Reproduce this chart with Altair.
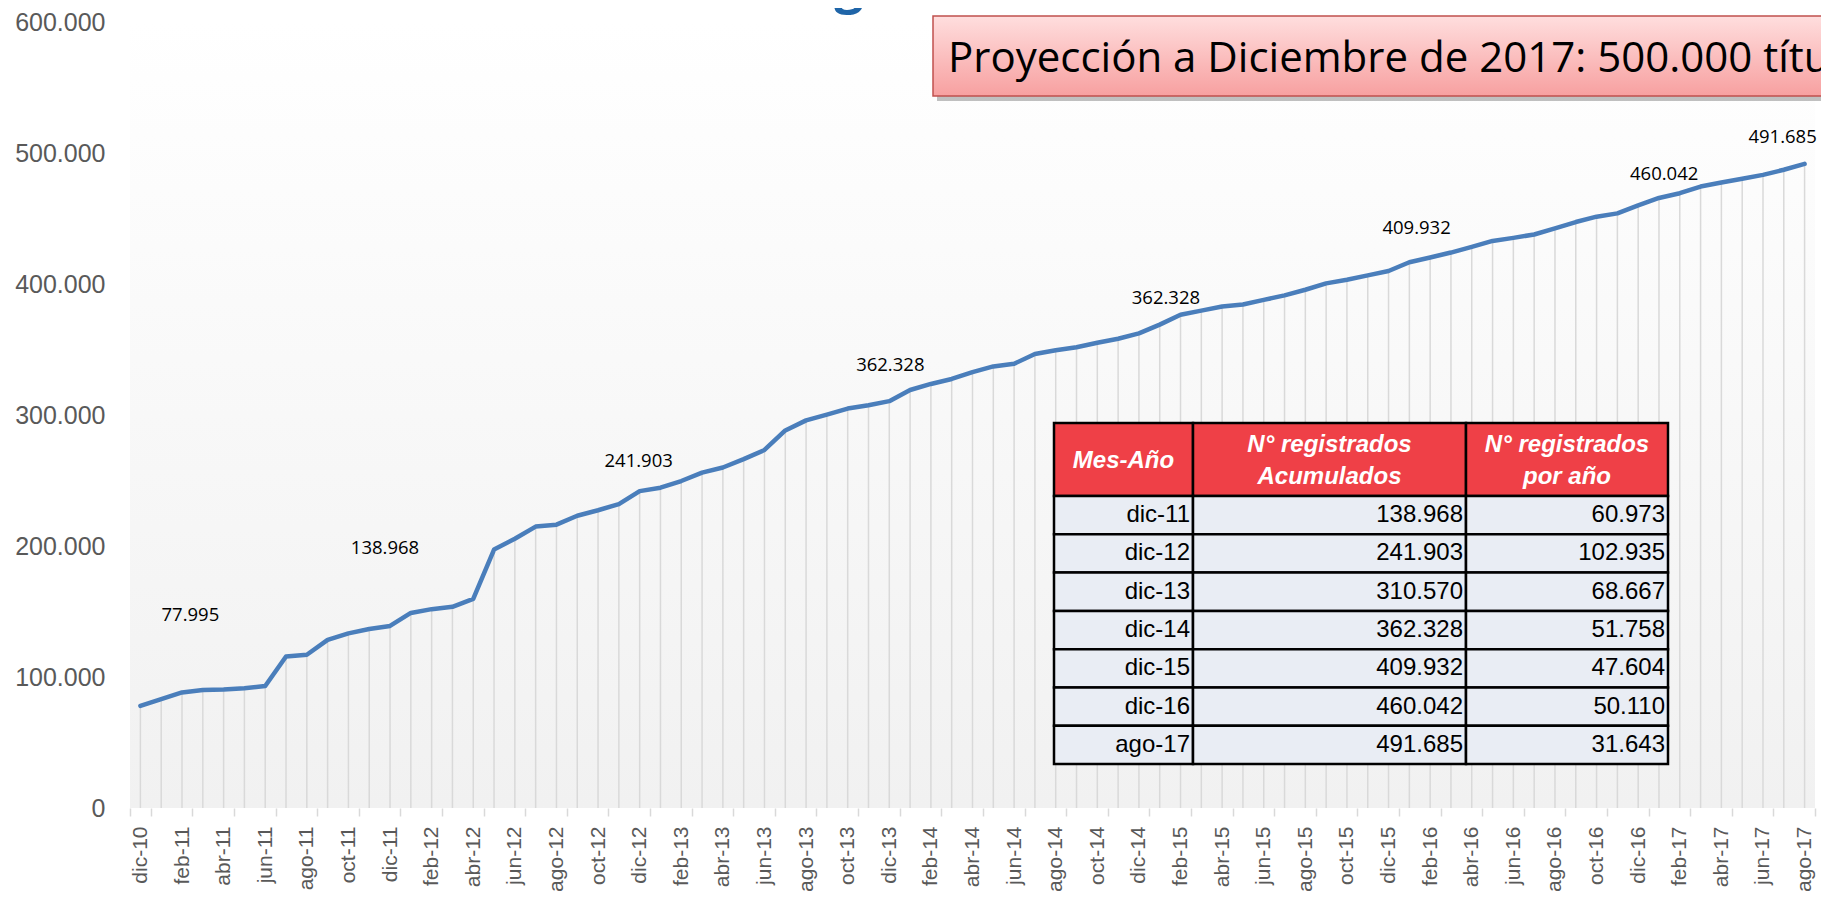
import altair as alt
import pandas as pd

# ---------------- data ----------------
meses_nombre = ["ene", "feb", "mar", "abr", "may", "jun", "jul", "ago", "sep", "oct", "nov", "dic"]
meses = ["dic-10"] + [f"{m}-{a}" for a in range(11, 18) for m in meses_nombre][:80]

registrados = [
    77995, 83100, 88200, 90000, 90500, 91400, 93100, 115600, 117000, 128300, 133300, 136600,
    138968, 148900, 151800, 153600, 159600, 197300, 205500, 214800, 216300, 223100, 227300, 232000,
    241903, 244500, 249600, 256000, 259900, 266300, 273300, 288200, 295900, 300300, 304900, 307500,
    310570, 319100, 323700, 327500, 332700, 337100, 339100, 346600, 349400, 351700, 355100, 358200,
    362328, 369000, 376500, 379700, 382800, 384400, 387900, 391300, 395600, 400500, 403300, 406600,
    409932, 416600, 420200, 424000, 428300, 432900, 435200, 437800, 442400, 447300, 451400, 453900,
    460042, 465700, 469300, 474400, 477500, 480300, 483300, 487200, 491685,
]

etiquetas_mes = ["dic-10", "dic-11", "dic-12", "dic-13", "dic-14", "dic-15", "dic-16", "ago-17"]
etiquetas_texto = ["77.995", "138.968", "241.903", "362.328", "362.328", "409.932", "460.042", "491.685"]

tabla_mes = ["dic-11", "dic-12", "dic-13", "dic-14", "dic-15", "dic-16", "ago-17"]
tabla_acum = [138968, 241903, 310570, 362328, 409932, 460042, 491685]
tabla_anual = [60973, 102935, 68667, 51758, 47604, 50110, 31643]
tabla_cabecera = ["Mes-Año", "N° registrados\nAcumulados", "N° registrados\npor año"]

titulo_caja = "Proyección a Diciembre de 2017: 500.000 títulos"
y_ticks = [0, 100000, 200000, 300000, 400000, 500000, 600000]

# ---------------- layout ----------------
W, H = 1685, 786
etiqueta_dx = [50, -5, -1, 1, 27, 28, 26, -22]
etiqueta_dy = [-91, -78, -30, -36, -35, -43, -31, -27]
col_x = [924, 1063, 1336, 1538]
tab_top, head_h, row_h = 401, 73, 38.3
SANS = "Liberation Sans"


def fmt(v):
    return f"{v:,}".replace(",", ".")


df = pd.DataFrame({"mes": meses, "v": registrados})

x_enc = alt.X(
    "mes:N",
    scale=alt.Scale(type="band", domain=meses, paddingInner=0, paddingOuter=0),
    axis=alt.Axis(
        values=meses[::2], labelAngle=-90, labelAlign="right", labelBaseline="middle",
        tickBand="extent", domain=False, ticks=True, tickColor="#d9d9d9", tickSize=8,
        tickWidth=1.5, labelFont=SANS, labelFontSize=21,
        labelColor="#595959", labelPadding=10, title=None, grid=False, labelOverlap=False,
    ),
)
y_enc = alt.Y(
    "v:Q",
    scale=alt.Scale(domain=[0, 600000], nice=False),
    axis=alt.Axis(
        values=y_ticks, labelExpr="replace(format(datum.value, ','), ',', '.')",
        domain=False, ticks=False, grid=False, labelFont=SANS, labelFontSize=25,
        labelColor="#595959", labelPadding=25, title=None,
    ),
)

fondo = alt.Chart(pd.DataFrame({"k": [0]})).mark_rect(
    color=alt.Gradient(
        gradient="linear",
        stops=[alt.GradientStop(color="#ffffff", offset=0),
               alt.GradientStop(color="#f1f1f1", offset=1)],
        x1=0, x2=0, y1=0, y2=1,
    )
).encode(x=alt.value(0), x2=alt.value(W), y=alt.value(0), y2=alt.value(H))

base = alt.Chart(df)
caidas = base.mark_rule(color="#d9d9d9", strokeWidth=1.5).encode(x=x_enc, y=y_enc, y2=alt.Y2(datum=0))
linea = base.mark_line(color="#4a7ebb", strokeWidth=4.5, strokeJoin="round", strokeCap="round").encode(x=x_enc, y=y_enc)

etiquetas = []
for mes, txt, dx, dy in zip(etiquetas_mes, etiquetas_texto, etiqueta_dx, etiqueta_dy):
    d = pd.DataFrame({"mes": [mes], "v": [registrados[meses.index(mes)]], "t": [txt]})
    etiquetas.append(
        alt.Chart(d).mark_text(dx=dx, dy=dy, font="Open Sans", fontSize=18.5, color="#000000",
                               baseline="middle", align="center")
        .encode(x=alt.X("mes:N"), y=alt.Y("v:Q"), text="t:N")
    )

principal = alt.layer(fondo, caidas, linea, *etiquetas)

# ---------------- table ----------------
celdas = []
for c in range(3):
    celdas.append({"x": col_x[c], "x2": col_x[c + 1], "y": tab_top, "y2": tab_top + head_h, "tipo": "h"})
for r in range(len(tabla_mes)):
    y0 = tab_top + head_h + r * row_h
    for c in range(3):
        celdas.append({"x": col_x[c], "x2": col_x[c + 1], "y": y0, "y2": y0 + row_h, "tipo": "b"})
celdas = pd.DataFrame(celdas)

rect_tabla = alt.Chart(celdas).mark_rect(stroke="#000000", strokeWidth=2.5).encode(
    x=alt.X("x:Q", scale=None), x2="x2:Q",
    y=alt.Y("y:Q", scale=None), y2="y2:Q",
    fill=alt.Fill("tipo:N", scale=alt.Scale(domain=["h", "b"], range=["#ef4047", "#e9edf4"]), legend=None),
)

cab = []
for c, t in enumerate(tabla_cabecera):
    lineas = t.split("\n")
    n = len(lineas)
    for i, ln in enumerate(lineas):
        cab.append({
            "x": (col_x[c] + col_x[c + 1]) / 2,
            "y": tab_top + head_h / 2 + (i - (n - 1) / 2) * 32 + 1,
            "t": ln,
        })
cab = pd.DataFrame(cab)
texto_cab = alt.Chart(cab).mark_text(
    font=SANS, fontSize=24, fontWeight="bold", fontStyle="italic", color="#ffffff",
    align="center", baseline="middle",
).encode(x=alt.X("x:Q", scale=None), y=alt.Y("y:Q", scale=None), text="t:N")

cuerpo = []
for r in range(len(tabla_mes)):
    yc = tab_top + head_h + (r + 0.5) * row_h
    for c, t in enumerate([tabla_mes[r], fmt(tabla_acum[r]), fmt(tabla_anual[r])]):
        cuerpo.append({"x": col_x[c + 1] - 3, "y": yc, "t": t})
cuerpo = pd.DataFrame(cuerpo)
texto_cuerpo = alt.Chart(cuerpo).mark_text(
    font=SANS, fontSize=24, color="#000000", align="right", baseline="middle",
).encode(x=alt.X("x:Q", scale=None), y=alt.Y("y:Q", scale=None), text="t:N")

# ---------------- annotation box ----------------
uno = pd.DataFrame({"k": [0]})
sombra = alt.Chart(uno).mark_rect(color="#8c8c8c", opacity=0.55).encode(
    x=alt.value(807), x2=alt.value(1720), y=alt.value(-2), y2=alt.value(79))
caja = alt.Chart(uno).mark_rect(
    color=alt.Gradient(
        gradient="linear",
        stops=[alt.GradientStop(color="#ffdede", offset=0),
               alt.GradientStop(color="#f7a0a0", offset=1)],
        x1=0, x2=0, y1=0, y2=1,
    ),
    stroke="#c0504d", strokeWidth=1.5,
).encode(x=alt.value(803), x2=alt.value(1716), y=alt.value(-6), y2=alt.value(74))
texto_caja = alt.Chart(pd.DataFrame({"t": [titulo_caja]})).mark_text(
    font="Open Sans", fontSize=42, color="#000000", align="left", baseline="alphabetic",
).encode(x=alt.value(818), y=alt.value(50), text="t:N")
titulo = alt.Chart(pd.DataFrame({"t": ["g"]})).mark_text(
    font="Open Sans", fontSize=52, fontWeight="bold", color="#1f65a8", align="center",
    baseline="alphabetic",
).encode(x=alt.value(719), y=alt.value(-20), text="t:N")

tabla = alt.layer(rect_tabla, texto_cab, texto_cuerpo, sombra, caja, texto_caja, titulo)

chart = alt.layer(principal, tabla).resolve_scale(x="independent", y="independent").properties(
    width=W, height=H,
    padding={"left": 122, "top": 14, "right": 6, "bottom": 86},
    autosize=alt.AutoSizeParams(type="none"),
    background="#ffffff",
).configure_view(stroke=None)

chart.save("out.html", embed_options={"renderer": "svg", "actions": False})
